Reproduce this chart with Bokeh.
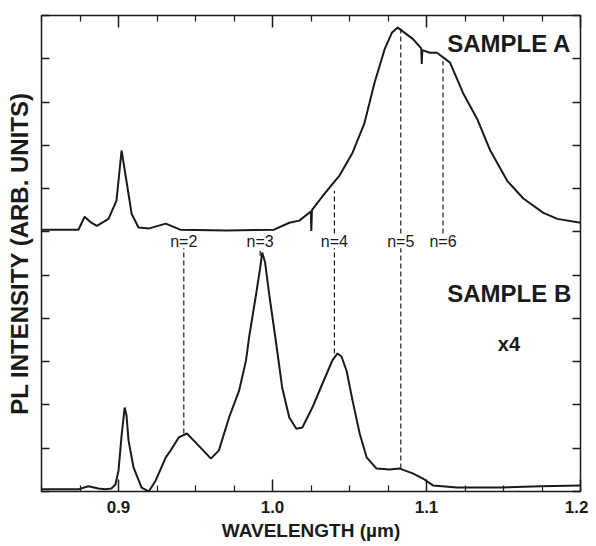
import numpy as np
from bokeh.plotting import figure
from bokeh.models import LinearAxis, FixedTicker, Label, ColumnDataSource
from bokeh.embed import file_html
from bokeh.resources import INLINE
from bokeh.core.properties import value

# ---- data ----
wl_a = [0.850, 0.874, 0.878, 0.882, 0.886, 0.8935, 0.8987, 0.902, 0.9055, 0.9085, 0.913,
        0.920, 0.9307, 0.940, 0.970, 1.001, 1.0109, 1.0174, 1.0249, 1.0252, 1.0256, 1.032, 1.039,
        1.0435, 1.052, 1.0596, 1.0663, 1.0729, 1.0775, 1.0813, 1.0911, 1.0966, 1.0969, 1.0973,
        1.1022, 1.1068, 1.1153, 1.1237, 1.1329, 1.1414, 1.1524, 1.1629, 1.1759, 1.185, 1.200]
pl_a = [6.05, 6.05, 6.35, 6.22, 6.14, 6.30, 6.72, 7.88, 7.10, 6.42, 6.10,
        6.08, 6.19, 6.05, 6.03, 6.05, 6.21, 6.26, 6.47, 6.02, 6.50, 6.80, 7.11,
        7.30, 7.83, 8.50, 9.45, 10.23, 10.60, 10.72, 10.46, 10.24, 9.88, 10.20,
        10.14, 10.14, 9.91, 9.21, 8.61, 7.88, 7.18, 6.77, 6.44, 6.30, 6.21]

wl_b = [0.850, 0.874, 0.8804, 0.887, 0.8915, 0.8954, 0.898, 0.900, 0.902, 0.904, 0.9052,
        0.9065, 0.9098, 0.915, 0.9196, 0.9241, 0.9307, 0.9339, 0.9391, 0.9444, 0.9502,
        0.9568, 0.960, 0.9652, 0.9718, 0.9783, 0.9828, 0.9848, 0.9894, 0.992, 0.9933,
        0.9952, 0.9978, 1.0024, 1.0063, 1.0109, 1.0155, 1.0194, 1.0259, 1.0324, 1.0389,
        1.0422, 1.0448, 1.0481, 1.052, 1.0566, 1.0611, 1.0676, 1.0761, 1.0826, 1.0911,
        1.0977, 1.1042, 1.1198, 1.1479, 1.174, 1.200]
pl_b = [0.05, 0.05, 0.12, 0.07, 0.05, 0.07, 0.16, 0.48, 1.29, 1.94, 1.76,
        1.18, 0.55, 0.09, 0.00, 0.25, 0.79, 0.95, 1.25, 1.34, 1.13,
        0.88, 0.76, 0.95, 1.71, 2.33, 3.03, 3.56, 4.57, 5.17, 5.52,
        5.29, 4.57, 3.42, 2.40, 1.71, 1.45, 1.48, 1.94, 2.49, 3.03,
        3.19, 3.12, 2.79, 2.10, 1.34, 0.79, 0.53, 0.51, 0.53, 0.42,
        0.30, 0.14, 0.09, 0.09, 0.12, 0.14]

# quantum-well transitions
n_labels = ["n=2", "n=3", "n=4", "n=5", "n=6"]
n_wl = [0.9424, 0.9920, 1.0402, 1.0833, 1.1107]
# lower dashed segments (sample B), upper dashed segments (sample A)
low_y0 = [1.34, 5.45, 3.19, 0.53, None]
low_y1 = [5.62, 5.62, 5.62, 5.62, None]
up_y0 = [None, None, 5.96, 5.96, 5.96]
up_y1 = [None, None, 6.95, 10.70, 9.95]
label_y = 5.78

x_ticks = [0.9, 1.0, 1.1, 1.2]
x_tick_labels = ["0.9", "1.0", "1.1", "1.2"]
x_minor = [0.85, 0.875, 0.925, 0.95, 0.975, 1.025, 1.05, 1.075, 1.125, 1.15, 1.175]
y_ticks = list(range(0, 12))

FONT = "Liberation Sans"
INK = "#1a1a1a"

p = figure(frame_width=539, frame_height=476, x_range=(0.85, 1.2), y_range=(0, 11),
           output_backend="svg", toolbar_location=None,
           min_border_left=41, min_border_right=8, min_border_top=15, min_border_bottom=52)
p.background_fill_color = "white"
p.border_fill_color = "white"
p.xgrid.visible = False
p.ygrid.visible = False
p.outline_line_color = INK
p.outline_line_width = 1.5

# curves
p.line(wl_a, pl_a, line_color=INK, line_width=2)
p.line(wl_b, pl_b, line_color=INK, line_width=2)

# dashed transition lines
lx, ly0, ly1 = [], [], []
for x, a, b in zip(n_wl, low_y0, low_y1):
    if a is not None:
        lx.append(x); ly0.append(a); ly1.append(b)
ux, uy0, uy1 = [], [], []
for x, a, b in zip(n_wl, up_y0, up_y1):
    if a is not None:
        ux.append(x); uy0.append(a); uy1.append(b)
p.segment(x0=lx, y0=ly0, x1=lx, y1=ly1, line_color=INK, line_width=1.2, line_dash="5 3")
p.segment(x0=ux, y0=uy0, x1=ux, y1=uy1, line_color=INK, line_width=1.2, line_dash="5 3")

src = ColumnDataSource(dict(x=n_wl, y=[label_y] * len(n_wl), t=n_labels))
p.text(x="x", y="y", text="t", source=src, text_font=value(FONT), text_font_size="16px",
       text_align="center", text_baseline="middle", text_color=INK)

# sample annotations
p.add_layout(Label(x=1.194, y=10.35, text="SAMPLE A", text_font=FONT, text_font_size="24px",
                   text_font_style="bold", text_align="right", text_baseline="middle",
                   text_color=INK))
p.add_layout(Label(x=1.194, y=4.57, text="SAMPLE B", text_font=FONT, text_font_size="24px",
                   text_font_style="bold", text_align="right", text_baseline="middle",
                   text_color=INK))
p.add_layout(Label(x=1.1535, y=3.42, text="x4", text_font=FONT, text_font_size="20px",
                   text_font_style="bold", text_align="center", text_baseline="middle",
                   text_color=INK))

# axes
xt = FixedTicker(ticks=x_ticks, minor_ticks=x_minor)
yt = FixedTicker(ticks=y_ticks, minor_ticks=[])

ax = p.xaxis[0]
ax.ticker = xt
ax.major_label_overrides = {t: s for t, s in zip(x_ticks, x_tick_labels)}
ax.axis_label = "WAVELENGTH (\u00b5m)"

ay = p.yaxis[0]
ay.ticker = yt
ay.axis_label = "PL INTENSITY (ARB. UNITS)"
ay.major_label_overrides = {t: "" for t in y_ticks}
ay.major_label_standoff = 0

top = LinearAxis(ticker=xt, major_label_overrides={t: "" for t in x_ticks}, major_label_standoff=0)
right = LinearAxis(ticker=yt, major_label_overrides={t: "" for t in y_ticks}, major_label_standoff=0)
p.add_layout(top, "above")
p.add_layout(right, "right")

for a in [ax, top]:
    a.major_tick_in = 12
    a.minor_tick_in = 6
for a in [ay, right]:
    a.major_tick_in = 8
    a.minor_tick_in = 0
for a in [ax, ay, top, right]:
    a.major_tick_out = 0
    a.minor_tick_out = 0
    a.axis_line_color = None
    a.major_tick_line_color = INK
    a.minor_tick_line_color = INK
    a.major_tick_line_width = 1.5
    a.minor_tick_line_width = 1.2
    a.axis_label_text_font = FONT
    a.axis_label_text_font_style = "bold"
    a.axis_label_text_color = INK
    a.major_label_text_font = FONT
    a.major_label_text_font_style = "bold"
    a.major_label_text_color = INK
    a.major_label_text_font_size = "17px"

ax.major_label_standoff = 9
ax.axis_label_text_font_size = "19px"
ax.axis_label_standoff = 4
ay.axis_label_text_font_size = "24px"
ay.axis_label_standoff = 9

open("out.html", "w").write(file_html(p, INLINE))
